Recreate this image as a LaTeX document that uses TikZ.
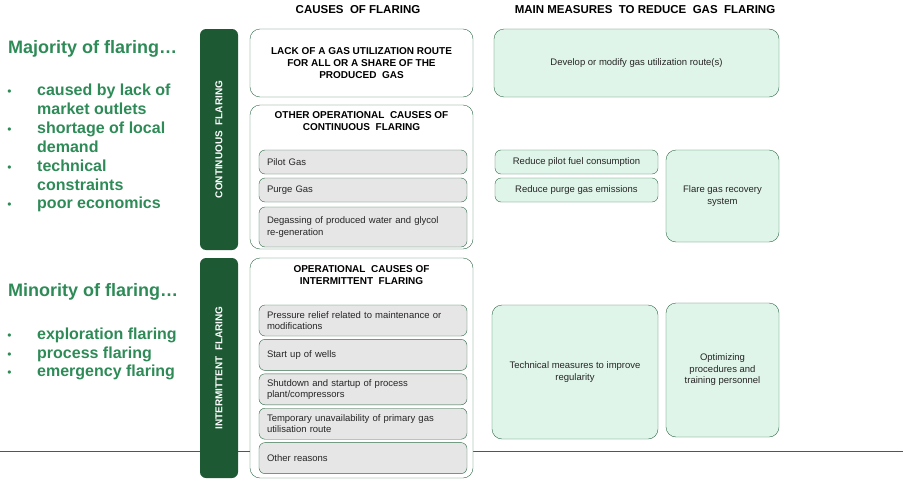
\documentclass[tikz,border=0pt]{standalone}
\usepackage{fontspec}
\setmainfont{Liberation Sans}
\usetikzlibrary{positioning}
\definecolor{bargreen}{HTML}{1D5A34}
\definecolor{textgreen}{HTML}{2E8B57}
\definecolor{boxline}{HTML}{2F6B47}
\definecolor{mintfill}{HTML}{E0F5E9}
\definecolor{itemgray}{HTML}{E6E6E6}
\definecolor{rulegray}{HTML}{555555}
\begin{document}
\begin{tikzpicture}[x=1pt, y=-1pt,
	bar/.style={fill=bargreen, rounded corners=6pt, text=white, font=\fontsize{10}{12}\selectfont\bfseries, rotate=90, minimum height=38pt, inner sep=0pt},
	causebox/.style={draw=boxline, fill=white, rounded corners=10pt, minimum width=223pt, inner sep=0pt},
	boxtitle/.style={font=\fontsize{10}{12}\selectfont\bfseries, align=center, inner sep=0pt},
	item/.style={draw=boxline, fill=itemgray, rounded corners=6pt, text width=192pt, inner xsep=8pt, inner ysep=0pt, align=left, minimum height=31pt, font=\fontsize{9.5}{11.5}\selectfont, text=black!85},
	measure/.style={draw=boxline, fill=mintfill, rounded corners=10pt, align=center, inner sep=0pt, font=\fontsize{9.5}{11.5}\selectfont, text=black!85},
	head/.style={font=\fontsize{11.5}{13}\selectfont\bfseries},
	lead/.style={anchor=base west, text=textgreen, font=\fontsize{18}{20}\selectfont\bfseries, inner sep=0pt},
	point/.style={anchor=base west, text=textgreen, font=\fontsize{16}{18.8}\selectfont\bfseries, align=left, inner sep=0pt},
	dot/.style={anchor=base, text=textgreen, font=\fontsize{12}{14}\selectfont, inner sep=0pt}]
	
	\useasboundingbox (0,0) rectangle (903,479);
	
	% bottom rule
	\coordinate (ruleL) at (0,451);
	\coordinate (ruleR) at (903,451);
	\draw[rulegray, line width=0.9pt] (ruleL) -- (ruleR);
	
	% headers
	\node[head] (hcause) at (358,10) {CAUSES\ \ OF FLARING};
	\node[head] (hmeas) at (645,10) {MAIN MEASURES\ \ TO REDUCE\ \ GAS\ \ FLARING};
	
	% left text (two-line points sit on their last line)
	\node[lead] (major) at (8,53.3) {Majority of flaring\dots};
	\node[dot] (d1) at (9.5,95.7) {•};
	\node[point] (p1) at (37,114.3) {caused by lack of\\market outlets};
	\node[dot] (d2) at (9.5,133.3) {•};
	\node[point] (p2) at (37,152.3) {shortage of local\\demand};
	\node[dot] (d3) at (9.5,171.7) {•};
	\node[point] (p3) at (37,190) {technical\\constraints};
	\node[dot] (d4) at (9.5,208) {•};
	\node[point] (p4) at (37,208) {poor economics};
	
	\node[lead] (minor) at (8,296) {Minority of flaring\dots};
	\node[dot] (d5) at (9.5,339.3) {•};
	\node[point] (p5) at (37,339.3) {exploration flaring};
	\node[dot] (d6) at (9.5,358.3) {•};
	\node[point] (p6) at (37,358.3) {process flaring};
	\node[dot] (d7) at (9.5,376.7) {•};
	\node[point] (p7) at (37,376.7) {emergency flaring};
	
	% green bars
	\node[bar, minimum width=221pt] (cont) at (219,139.5) {CONTINUOUS\ \ FLARING};
	\node[bar, minimum width=220pt] (inter) at (219,368) {INTERMITTENT\ \ FLARING};
	
	% causes, continuous
	\node[causebox, minimum height=68pt, boxtitle] (lack) at (361.5,63) {LACK OF A GAS UTILIZATION ROUTE\\FOR ALL OR A SHARE OF THE\\PRODUCED\ \ GAS};
	\node[causebox, minimum height=144pt] (other) at (361.5,177) {};
	\node[boxtitle, below=7pt of other.north] (othert) {OTHER OPERATIONAL\ \ CAUSES OF\\CONTINUOUS\ \ FLARING};
	\node[item, minimum height=24pt] (pilot) at (363,162) {Pilot Gas};
	\node[item, minimum height=24pt] (purge) at (363,190) {Purge Gas};
	\node[item, minimum height=40pt] (degas) at (363,227) {Degassing of produced water and glycol\\re-generation};
	
	% causes, intermittent
	\node[causebox, minimum height=220pt] (oper) at (361.5,368) {};
	\node[boxtitle, below=8pt of oper.north] (opert) {OPERATIONAL\ \ CAUSES OF\\INTERMITTENT\ \ FLARING};
	\node[item] (press) at (363,320.5) {Pressure relief related to maintenance or\\modifications};
	\node[item, below=3pt of press] (start) {Start up of wells};
	\node[item, below=3pt of start] (shut) {Shutdown and startup of process\\plant/compressors};
	\node[item, below=3pt of shut] (temp) {Temporary unavailability of primary gas\\utilisation route};
	\node[item, below=3pt of temp] (rest) {Other reasons};
	
	% measures
	\node[measure, minimum width=285pt, minimum height=68pt] (develop) at (636.5,63) {Develop or modify gas utilization route(s)};
	\node[measure, rounded corners=6pt, minimum width=163pt, minimum height=24pt] (rpilot) at (576.5,162) {Reduce pilot fuel consumption};
	\node[measure, rounded corners=6pt, minimum width=163pt, minimum height=24pt] (rpurge) at (576.5,190) {Reduce purge gas emissions};
	\node[measure, minimum width=113pt, minimum height=92pt] (recov) at (722.5,196) {Flare gas recovery\\system};
	\node[measure, minimum width=166pt, minimum height=134pt] (techm) at (575,372) {Technical measures to improve\\regularity};
	\node[measure, minimum width=113pt, minimum height=134pt] (optim) at (722.5,370) {Optimizing\\procedures and\\training personnel};
	
\end{tikzpicture}
\end{document}
